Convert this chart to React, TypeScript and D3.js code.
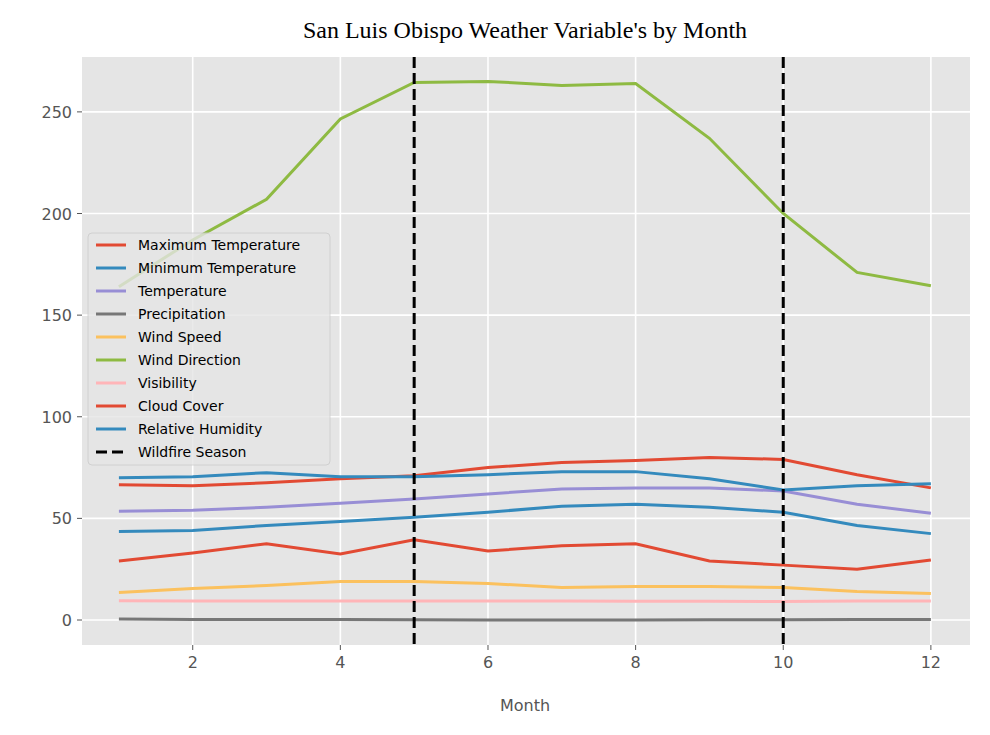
import * as d3 from "d3";

const months = [1, 2, 3, 4, 5, 6, 7, 8, 9, 10, 11, 12];
const maxTemp = [66.5, 66, 67.5, 69.5, 71, 75, 77.5, 78.5, 80, 79, 71.5, 65];
const minTemp = [43.5, 44, 46.5, 48.5, 50.5, 53, 56, 57, 55.5, 53, 46.5, 42.5];
const temp = [53.5, 54, 55.5, 57.5, 59.5, 62, 64.5, 65, 65, 63.5, 57, 52.5];
const precip = [0.5, 0.3, 0.3, 0.2, 0.1, 0, 0, 0, 0.1, 0.1, 0.2, 0.3];
const windSpeed = [13.5, 15.5, 17, 19, 19, 18, 16, 16.5, 16.5, 16, 14, 13];
const windDir = [164, 187, 207, 246.5, 264.5, 265, 263, 264, 237, 200, 171, 164.5];
const visibility = [9.5, 9.3, 9.3, 9.4, 9.4, 9.3, 9.3, 9.2, 9.2, 9.1, 9.3, 9.3];
const cloudCover = [29, 33, 37.5, 32.5, 39.5, 34, 36.5, 37.5, 29, 27, 25, 29.5];
const humidity = [70, 70.5, 72.5, 70.5, 70.5, 71.5, 73, 73, 69.5, 64, 66, 67];
const seasonBounds = [5, 10];
const xTicks = [2, 4, 6, 8, 10, 12];
const yTicks = [0, 50, 100, 150, 200, 250];

const series = [
  { name: "Maximum Temperature", values: maxTemp, color: "#E24A33" },
  { name: "Minimum Temperature", values: minTemp, color: "#348ABD" },
  { name: "Temperature", values: temp, color: "#988ED5" },
  { name: "Precipitation", values: precip, color: "#777777" },
  { name: "Wind Speed", values: windSpeed, color: "#FBC15E" },
  { name: "Wind Direction", values: windDir, color: "#8EBA42" },
  { name: "Visibility", values: visibility, color: "#FFB5B8" },
  { name: "Cloud Cover", values: cloudCover, color: "#E24A33" },
  { name: "Relative Humidity", values: humidity, color: "#348ABD" },
];

const L = 82, R = 970, T = 57, B = 645;

export default function App() {
  const x = d3.scaleLinear().domain([0.5, 12.53]).range([L, R]);
  const y = d3.scaleLinear().domain([-12.3, 277]).range([B, T]);
  const line = d3.line<number>().x((_, i) => x(months[i])).y((d) => y(d));
  const font = "DejaVu Sans, sans-serif";
  return (
    <svg width={990} height={735} style={{ position: "absolute", left: 0, top: 0 }}>
      <rect width={990} height={735} fill="#fff" />
      <rect x={L} y={T} width={R - L} height={B - T} fill="#E5E5E5" />
      {xTicks.map((t) => (
        <g key={t}>
          <line x1={x(t)} x2={x(t)} y1={T} y2={B} stroke="#fff" strokeWidth={1.6} />
          <line x1={x(t)} x2={x(t)} y1={B} y2={B + 5} stroke="#555" />
          <text x={x(t)} y={B + 23} textAnchor="middle" fontFamily={font} fontSize={16} fill="#555">{t}</text>
        </g>
      ))}
      {yTicks.map((t) => (
        <g key={t}>
          <line x1={L} x2={R} y1={y(t)} y2={y(t)} stroke="#fff" strokeWidth={1.6} />
          <line x1={L - 5} x2={L} y1={y(t)} y2={y(t)} stroke="#555" />
          <text x={L - 10} y={y(t) + 6} textAnchor="end" fontFamily={font} fontSize={16} fill="#555">{t}</text>
        </g>
      ))}
      {series.map((s) => (
        <path key={s.name} d={line(s.values) || ""} fill="none" stroke={s.color} strokeWidth={3} />
      ))}
      {seasonBounds.map((b) => (
        <line key={b} x1={x(b)} x2={x(b)} y1={T} y2={B} stroke="#000" strokeWidth={3} strokeDasharray="11,5" />
      ))}
      <text x={525} y={38} textAnchor="middle" fontFamily="Liberation Serif, serif" fontSize={24}>San Luis Obispo Weather Variable's by Month</text>
      <text x={525} y={711} textAnchor="middle" fontFamily={font} fontSize={16} fill="#555">Month</text>
      <g>
        <rect x={88} y={233} width={242} height={232} rx={4} fill="#E5E5E5" stroke="#ccc" opacity={0.8} />
        {[...series.map((s) => ({ name: s.name, color: s.color, dash: "" })), { name: "Wildfire Season", color: "#000", dash: "11,5" }].map((s, i) => (
          <g key={s.name + i} transform={`translate(96,${245 + i * 23})`}>
            <line x1={0} x2={30} y1={0} y2={0} stroke={s.color} strokeWidth={3} strokeDasharray={s.dash} />
            <text x={42} y={5} fontFamily={font} fontSize={14} fill="#000">{s.name}</text>
          </g>
        ))}
      </g>
    </svg>
  );
}
